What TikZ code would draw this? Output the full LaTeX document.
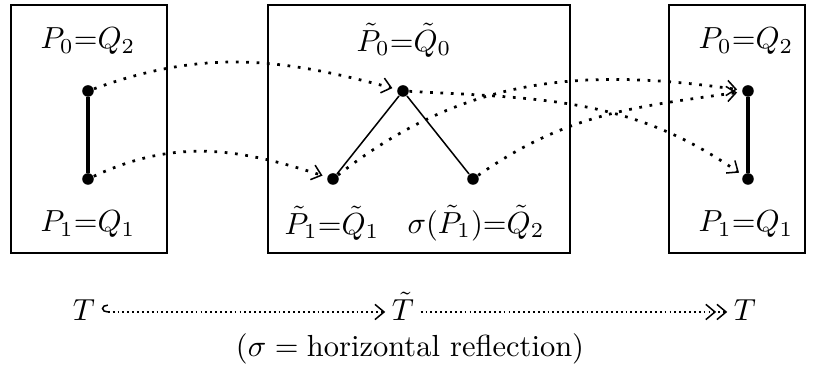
\documentclass[tikz,border=0pt]{standalone}
\usepackage{amsmath, amssymb}
\usepackage{tikz}
\usetikzlibrary{arrows.meta, positioning, calc}

\tikzset{
  pt/.style={circle,fill,inner sep=0pt,minimum size=3.8pt},
  lbl/.style={inner sep=1pt},
  box/.style={line width=0.8pt},
  map/.style={line width=0.9pt,dash pattern=on 0.9pt off 2.5pt,
    -{Straight Barb[length=3pt,width=5pt,line width=0.5pt]},shorten >=1.5pt},
  smap/.style={line width=0.6pt,dash pattern=on 0.6pt off 1pt},
  tnode/.style={text height=1.6ex,text depth=0.3ex,inner sep=2pt}
}

\begin{document}
\begin{tikzpicture}[x=0.328pt,y=0.328pt]
  \useasboundingbox (0,0) rectangle (820,374);
  % Kaesten
  \draw[box] (11,121) rectangle (167,369);
  \draw[box] (268,121) rectangle (570,369);
  \draw[box] (669,121) rectangle (805,369);
  % links: T
  \node[pt] (a0) at (88,283) {};
  \node[pt] (a1) at (88,195) {};
  \draw[line width=1.1pt] (a0) -- (a1);
  \node[lbl] (la0) at (88,333) {$P_0{=}Q_2$};
  \node[lbl] (la1) at (88,150) {$P_1{=}Q_1$};
  % mitte: tilde T
  \node[pt] (b0) at (403,283) {};
  \node[pt] (b1) at (333,195) {};
  \node[pt] (b2) at (473,195) {};
  \draw[line width=0.5pt] (b1) -- (b0) -- (b2);
  \node[lbl] (lb0) at (404,334) {$\tilde P_0{=}\tilde Q_0$};
  \node[lbl] (lb1) at (332,151) {$\tilde P_1{=}\tilde Q_1$};
  \node[lbl] (lb2) at (476,151) {$\sigma(\tilde P_1){=}\tilde Q_2$};
  % rechts: T
  \node[pt] (c0) at (748,283) {};
  \node[pt] (c1) at (748,195) {};
  \draw[line width=1.1pt] (c0) -- (c1);
  \node[lbl] (lc0) at (746,333) {$P_0{=}Q_2$};
  \node[lbl] (lc1) at (746,150) {$P_1{=}Q_1$};
  % Abbildungen
  \draw[map] (a0) to[out=20,in=165] (b0);
  \draw[map] (a1) to[out=25,in=162] (b1);
  \draw[map] (b0) to[out=-3,in=145] (c1);
  \draw[map] (b1) to[out=38,in=172] (c0);
  \draw[map] (b2) to[out=35,in=188] (c0);
  % unten
  \node[tnode] (T1) at (84,62) {$T$};
  \node[tnode] (Tt) at (403,62) {$\tilde T$};
  \node[tnode] (T2) at (745,62) {$T$};
  \draw[smap,{Hooks[right,length=2pt,width=5pt,line width=0.5pt]}-{Straight Barb[length=3pt,width=5pt,line width=0.5pt]}] (T1) -- (Tt);
  \draw[smap,-{Straight Barb[length=3pt,width=5pt,line width=0.5pt]Straight Barb[length=3pt,width=5pt,line width=0.5pt]}] (Tt) -- (T2);
  \node (cap) at (410,25) {$(\sigma=\text{horizontal reflection})$};
\end{tikzpicture}
\end{document}
